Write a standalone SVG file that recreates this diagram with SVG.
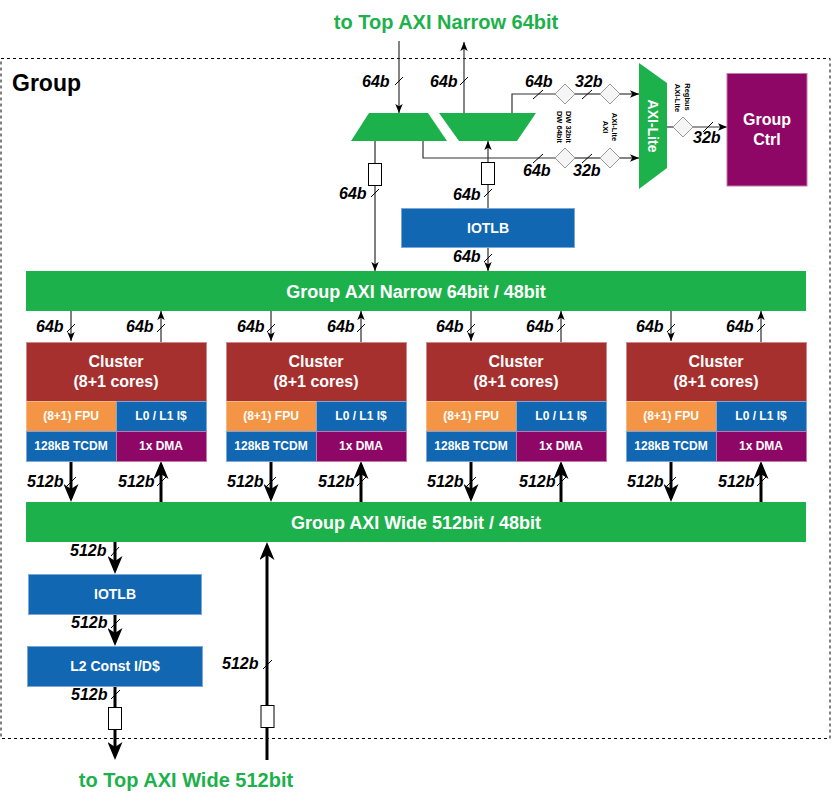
<svg xmlns="http://www.w3.org/2000/svg" width="832" height="802" viewBox="0 0 832 802">
<defs>
<style>
text{font-family:"Liberation Sans",Arial,sans-serif;font-weight:bold}
.ttl{font-size:20px;fill:#1db14c;text-anchor:middle}
.lbl{font-size:16px;font-style:italic;fill:#000}
.w16{font-size:16px;fill:#fff;text-anchor:middle}
.w14{font-size:14px;fill:#fff;text-anchor:middle}
.w12{font-size:12px;fill:#fff;text-anchor:middle}
.w18{font-size:18px;fill:#fff;text-anchor:middle}
.vt{font-size:7.5px;fill:#000;text-anchor:middle}
.thin{stroke:#000;stroke-width:1;fill:none}
.gl{stroke:#333;stroke-width:1.2;fill:none}
.thick{stroke:#000;stroke-width:3;fill:none}
.sl{stroke:#000;stroke-width:1;fill:none}
.dia{fill:#f5f5f5;stroke:#999;stroke-width:1}
.box{fill:#fff;stroke:#000;stroke-width:1}
.green{fill:#1db14c}
.blue{fill:#1167b1;stroke:#7ea6d8;stroke-width:1}
.red{fill:#a5302e;stroke:#c98a8a;stroke-width:1}
.orange{fill:#f39545;stroke:#f6b985;stroke-width:1}
.purple{fill:#8f0766;stroke:#c07aa8;stroke-width:1}
</style>
<marker id="ah" markerUnits="userSpaceOnUse" markerWidth="9" markerHeight="8" viewBox="0 0 9 8" refX="9" refY="4" orient="auto"><path d="M0,0.3 L9,4 L0,7.7 L2.2,4 z" fill="#000"/></marker>
<marker id="ahw" markerUnits="userSpaceOnUse" markerWidth="18" markerHeight="15" viewBox="0 0 18 15" refX="14" refY="7.5" orient="auto"><path d="M0,0 L18,7.5 L0,15 L5,7.5 z" fill="#000"/></marker>
</defs>
<rect x="0" y="0" width="832" height="802" fill="#fff"/>

<g id="group-frame">
<rect x="1" y="58.5" width="829" height="680" fill="none" stroke="#000" stroke-width="1" stroke-dasharray="3,3"/>
<text x="12" y="91" style="font-size:23px" fill="#000">Group</text>
</g>

<text class="ttl" x="446" y="29">to Top AXI Narrow 64bit</text>
<text class="ttl" x="186" y="787">to Top AXI Wide 512bit</text>

<g id="connectors">
<line class="gl" x1="399" y1="41" x2="399" y2="113" marker-end="url(#ah)"/>
<line class="gl" x1="464" y1="113" x2="464" y2="42" marker-end="url(#ah)"/>
<polyline class="gl" points="512,113 512,94 555,94"/>
<line class="gl" x1="575" y1="94" x2="600" y2="94"/>
<line class="gl" x1="620" y1="94" x2="639" y2="94" marker-end="url(#ah)"/>
<polyline class="gl" points="423,141 423,158 555,158"/>
<line class="gl" x1="575" y1="158" x2="600" y2="158"/>
<line class="gl" x1="620" y1="158" x2="639" y2="158" marker-end="url(#ah)"/>
<line class="gl" x1="667" y1="127" x2="673" y2="127"/>
<line class="gl" x1="693" y1="127" x2="727" y2="127" marker-end="url(#ah)"/>
<line class="thin" x1="375" y1="141" x2="375" y2="271" marker-end="url(#ah)"/>
<line class="gl" x1="488" y1="208" x2="488" y2="141" marker-end="url(#ah)"/>
<line class="thin" x1="488" y1="247" x2="488" y2="271" marker-end="url(#ah)"/>
<rect class="box" x="368.5" y="163.5" width="13" height="22"/>
<rect class="box" x="481.5" y="162.5" width="13" height="22"/>
<path class="sl" d="M395,85 L403,77 M460,85 L468,77 M533,99 L543,90 M582,99 L592,90 M533,163 L543,154 M582,163 L592,154 M703,132 L713,122 M371,197 L379,189 M484,197 L492,189 M484,262 L492,254"/>
<g id="c-narrow">
<line class="thin" x1="71" y1="311" x2="71" y2="341" marker-end="url(#ah)"/>
<line class="thin" x1="161" y1="342" x2="161" y2="311" marker-end="url(#ah)"/>
<line class="thin" x1="271" y1="311" x2="271" y2="341" marker-end="url(#ah)"/>
<line class="thin" x1="361" y1="342" x2="361" y2="311" marker-end="url(#ah)"/>
<line class="thin" x1="471" y1="311" x2="471" y2="341" marker-end="url(#ah)"/>
<line class="thin" x1="561" y1="342" x2="561" y2="311" marker-end="url(#ah)"/>
<line class="thin" x1="671" y1="311" x2="671" y2="341" marker-end="url(#ah)"/>
<line class="thin" x1="761" y1="342" x2="761" y2="311" marker-end="url(#ah)"/>
<path class="sl" d="M67,332 L75,324 M157,332 L165,324 M267,332 L275,324 M357,332 L365,324 M467,332 L475,324 M557,332 L565,324 M667,332 L675,324 M757,332 L765,324"/>
</g>
<g id="c-wide">
<line class="thick" x1="71" y1="461" x2="71" y2="498" marker-end="url(#ahw)"/>
<line class="thick" x1="161" y1="502" x2="161" y2="465" marker-end="url(#ahw)"/>
<line class="thick" x1="271" y1="461" x2="271" y2="498" marker-end="url(#ahw)"/>
<line class="thick" x1="361" y1="502" x2="361" y2="465" marker-end="url(#ahw)"/>
<line class="thick" x1="471" y1="461" x2="471" y2="498" marker-end="url(#ahw)"/>
<line class="thick" x1="561" y1="502" x2="561" y2="465" marker-end="url(#ahw)"/>
<line class="thick" x1="671" y1="461" x2="671" y2="498" marker-end="url(#ahw)"/>
<line class="thick" x1="761" y1="502" x2="761" y2="465" marker-end="url(#ahw)"/>
<path class="sl" d="M67,486 L76,477 M157,486 L166,477 M267,486 L276,477 M357,486 L366,477 M467,486 L476,477 M557,486 L566,477 M667,486 L676,477 M757,486 L766,477"/>
</g>
<line class="thick" x1="115" y1="542" x2="115" y2="570" marker-end="url(#ahw)"/>
<line class="thick" x1="115" y1="614" x2="115" y2="642" marker-end="url(#ahw)"/>
<line class="thick" x1="115" y1="686" x2="115" y2="756" marker-end="url(#ahw)"/>
<line class="thick" x1="267" y1="760" x2="267" y2="546" marker-end="url(#ahw)"/>
<rect class="box" x="108.5" y="707.5" width="13" height="22"/>
<rect class="box" x="261" y="705.5" width="13" height="22"/>
<path class="sl" d="M111,556 L119,547 M111,628 L120,619 M111,699 L120,690 M263,669 L272,660"/>
</g>

<g id="labels">
<text class="lbl" x="362" y="87">64b</text>
<text class="lbl" x="430" y="87">64b</text>
<text class="lbl" x="525" y="87">64b</text>
<text class="lbl" x="575" y="87">32b</text>
<text class="lbl" x="523" y="176">64b</text>
<text class="lbl" x="573" y="176">32b</text>
<text class="lbl" x="693" y="143">32b</text>
<text class="lbl" x="339" y="199">64b</text>
<text class="lbl" x="453" y="200">64b</text>
<text class="lbl" x="453" y="262">64b</text>
<text class="lbl" x="36" y="332">64b</text>
<text class="lbl" x="126" y="332">64b</text>
<text class="lbl" x="237" y="332">64b</text>
<text class="lbl" x="327" y="332">64b</text>
<text class="lbl" x="436" y="332">64b</text>
<text class="lbl" x="526" y="332">64b</text>
<text class="lbl" x="636" y="332">64b</text>
<text class="lbl" x="726" y="332">64b</text>
<text class="lbl" x="27" y="487">512b</text>
<text class="lbl" x="118" y="487">512b</text>
<text class="lbl" x="227" y="487">512b</text>
<text class="lbl" x="318" y="487">512b</text>
<text class="lbl" x="427" y="487">512b</text>
<text class="lbl" x="519" y="487">512b</text>
<text class="lbl" x="627" y="487">512b</text>
<text class="lbl" x="718" y="487">512b</text>
<text class="lbl" x="70" y="556">512b</text>
<text class="lbl" x="71" y="628">512b</text>
<text class="lbl" x="71" y="700">512b</text>
<text class="lbl" x="222" y="669">512b</text>
<text class="vt" transform="translate(565.5,127) rotate(90)">DW 32bit</text>
<text class="vt" transform="translate(556.5,127) rotate(90)">DW 64bit</text>
<text class="vt" transform="translate(611.5,127) rotate(90)">AXI-Lite</text>
<text class="vt" transform="translate(602.5,127) rotate(90)">AXI</text>
<text class="vt" transform="translate(684.5,97) rotate(90)">Regbus</text>
<text class="vt" transform="translate(675,98) rotate(90)">AXI-Lite</text>
</g>

<g id="mux-in"><polygon class="green" points="369,113 428,113 447,141 351,141"/></g>
<g id="mux-out"><polygon class="green" points="439,113 536,113 517,141 459,141"/></g>
<g id="dw-conv"><polygon class="dia" points="565,84 575,94 565,104 555,94"/><polygon class="dia" points="565,148 575,158 565,168 555,158"/></g>
<g id="axi-lite-conv"><polygon class="dia" points="610,84 620,94 610,104 600,94"/><polygon class="dia" points="610,148 620,158 610,168 600,158"/></g>
<g id="regbus-conv"><polygon class="dia" points="683,117 693,127 683,137 673,127"/></g>
<g id="axi-lite-xbar">
<polygon class="green" points="639,63 667,83 667,168 639,189"/>
<text style="font-size:14px" fill="#fff" text-anchor="middle" transform="translate(648,126) rotate(90)">AXI-Lite</text>
</g>
<g id="group-ctrl">
<rect class="purple" x="727" y="73.5" width="80" height="112.5"/>
<text class="w16" x="767" y="125">Group</text>
<text class="w16" x="767" y="145">Ctrl</text>
</g>
<g id="iotlb-narrow">
<rect class="blue" x="401.5" y="208.5" width="173" height="39"/>
<text class="w14" x="488" y="233">IOTLB</text>
</g>
<g id="axi-narrow-bar">
<rect class="green" x="26" y="271" width="780" height="40"/>
<text class="w18" x="416" y="298">Group AXI Narrow 64bit / 48bit</text>
</g>

<g id="cluster-0">
<rect class="red" x="26.5" y="342.5" width="180" height="59"/>
<rect class="orange" x="26.5" y="401.5" width="90" height="30"/>
<rect class="blue" x="116.5" y="401.5" width="90" height="30"/>
<rect class="blue" x="26.5" y="431.5" width="90" height="30"/>
<rect class="purple" x="116.5" y="431.5" width="90" height="30"/>
<text class="w16" x="116" y="367">Cluster</text>
<text class="w16" x="116" y="387">(8+1 cores)</text>
<text class="w12" x="71" y="420">(8+1) FPU</text>
<text class="w12" x="161" y="420">L0 / L1 I$</text>
<text class="w12" x="71" y="450">128kB TCDM</text>
<text class="w12" x="161" y="450">1x DMA</text>
</g>
<g id="cluster-1" transform="translate(200,0)">
<rect class="red" x="26.5" y="342.5" width="180" height="59"/>
<rect class="orange" x="26.5" y="401.5" width="90" height="30"/>
<rect class="blue" x="116.5" y="401.5" width="90" height="30"/>
<rect class="blue" x="26.5" y="431.5" width="90" height="30"/>
<rect class="purple" x="116.5" y="431.5" width="90" height="30"/>
<text class="w16" x="116" y="367">Cluster</text>
<text class="w16" x="116" y="387">(8+1 cores)</text>
<text class="w12" x="71" y="420">(8+1) FPU</text>
<text class="w12" x="161" y="420">L0 / L1 I$</text>
<text class="w12" x="71" y="450">128kB TCDM</text>
<text class="w12" x="161" y="450">1x DMA</text>
</g>
<g id="cluster-2" transform="translate(400,0)">
<rect class="red" x="26.5" y="342.5" width="180" height="59"/>
<rect class="orange" x="26.5" y="401.5" width="90" height="30"/>
<rect class="blue" x="116.5" y="401.5" width="90" height="30"/>
<rect class="blue" x="26.5" y="431.5" width="90" height="30"/>
<rect class="purple" x="116.5" y="431.5" width="90" height="30"/>
<text class="w16" x="116" y="367">Cluster</text>
<text class="w16" x="116" y="387">(8+1 cores)</text>
<text class="w12" x="71" y="420">(8+1) FPU</text>
<text class="w12" x="161" y="420">L0 / L1 I$</text>
<text class="w12" x="71" y="450">128kB TCDM</text>
<text class="w12" x="161" y="450">1x DMA</text>
</g>
<g id="cluster-3" transform="translate(600,0)">
<rect class="red" x="26.5" y="342.5" width="180" height="59"/>
<rect class="orange" x="26.5" y="401.5" width="90" height="30"/>
<rect class="blue" x="116.5" y="401.5" width="90" height="30"/>
<rect class="blue" x="26.5" y="431.5" width="90" height="30"/>
<rect class="purple" x="116.5" y="431.5" width="90" height="30"/>
<text class="w16" x="116" y="367">Cluster</text>
<text class="w16" x="116" y="387">(8+1 cores)</text>
<text class="w12" x="71" y="420">(8+1) FPU</text>
<text class="w12" x="161" y="420">L0 / L1 I$</text>
<text class="w12" x="71" y="450">128kB TCDM</text>
<text class="w12" x="161" y="450">1x DMA</text>
</g>

<g id="axi-wide-bar">
<rect class="green" x="26" y="502" width="780" height="40"/>
<text class="w18" x="416" y="529">Group AXI Wide 512bit / 48bit</text>
</g>
<g id="iotlb-wide">
<rect class="blue" x="28.5" y="574.5" width="173" height="40"/>
<text class="w14" x="115" y="599">IOTLB</text>
</g>
<g id="l2-const-cache">
<rect class="blue" x="27.5" y="646.5" width="175" height="40"/>
<text class="w14" x="115" y="671">L2 Const I/D$</text>
</g>
</svg>
